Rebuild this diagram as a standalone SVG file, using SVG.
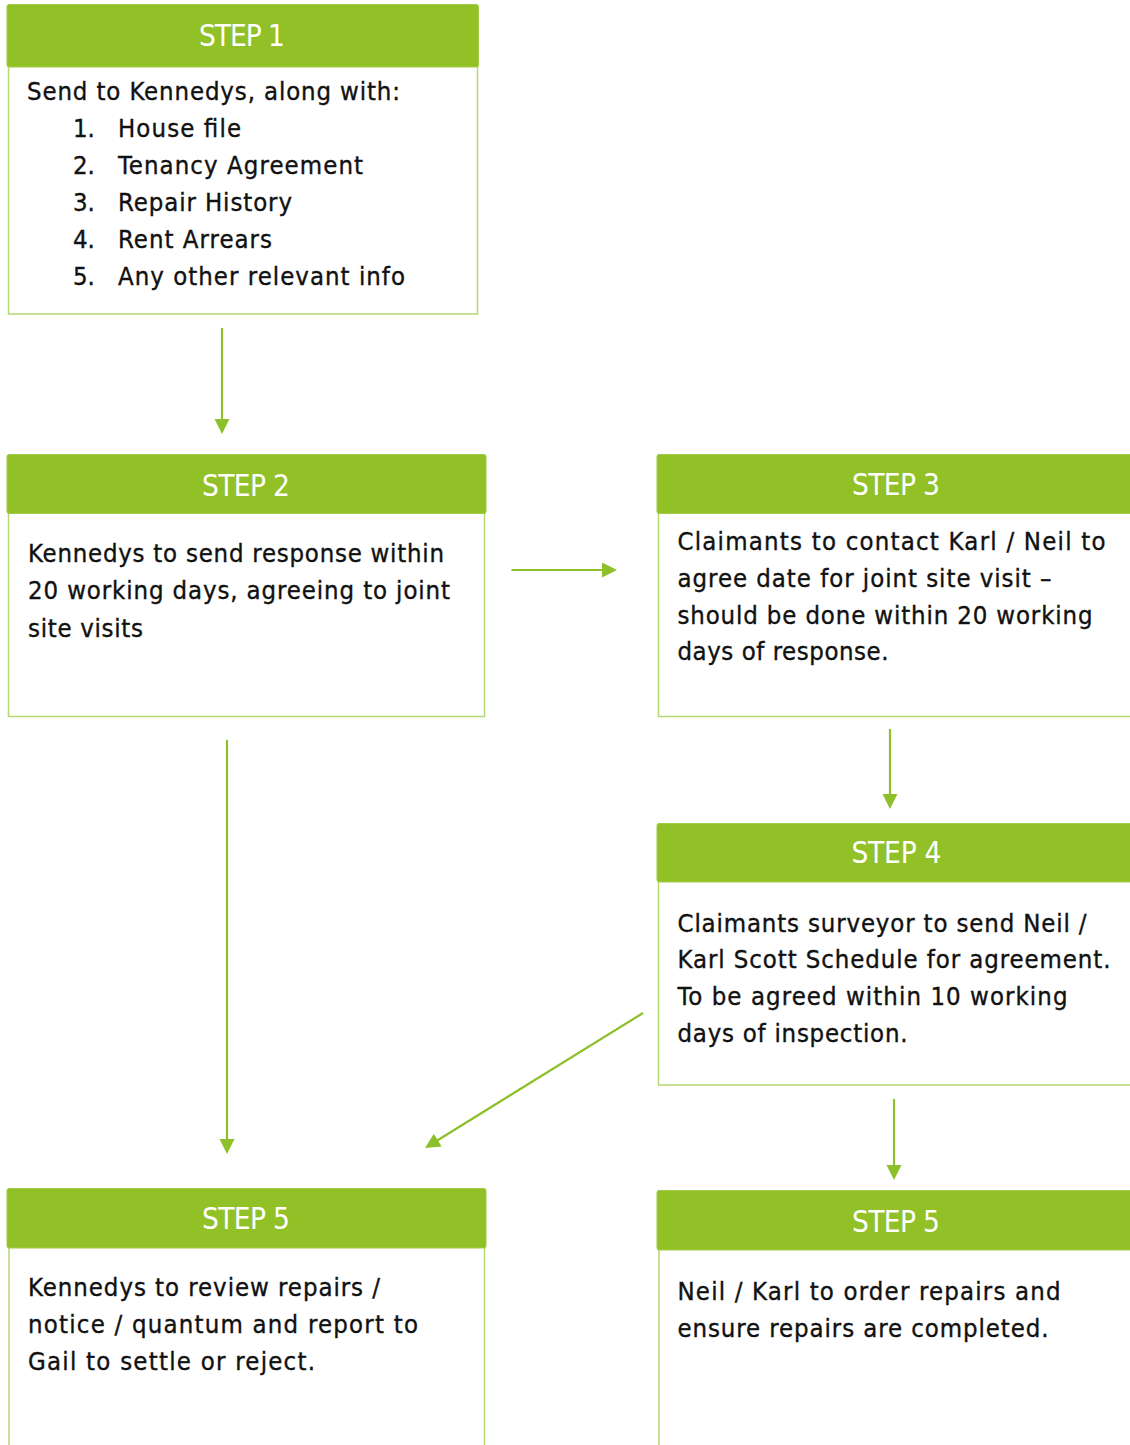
<svg xmlns="http://www.w3.org/2000/svg" width="1130" height="1445" viewBox="0 0 1130 1445">
<style>
.hdr{fill:#92c127;stroke:#a3cb45;stroke-width:1}
.body{fill:#ffffff;stroke:#b7d774;stroke-width:1.5}
.ht{font-family:"DejaVu Sans Condensed","DejaVu Sans","Noto Sans",sans-serif;font-size:29.5px;fill:#ffffff;text-anchor:middle}
.bt{font-family:"DejaVu Sans Condensed","DejaVu Sans","Noto Sans",sans-serif;font-size:25.5px;fill:#111111;stroke:#111111;stroke-width:0.35}
.conn{stroke:#8dc02a;stroke-width:2.2;fill:none;marker-end:url(#ah)}
</style>
<defs>
<marker id="ah" markerUnits="userSpaceOnUse" markerWidth="16" markerHeight="16" refX="4" refY="7.5" orient="auto">
<path d="M0,0 L15,7.5 L0,15 z" fill="#8dc02a"/>
</marker>
</defs>
<rect width="1130" height="1445" fill="#ffffff"/>

<g id="step1">
<rect class="body" x="8.5" y="66" width="469" height="248"/>
<rect class="hdr" x="7" y="4.5" width="471.5" height="62.5" rx="2"/>
<text class="ht" x="242" y="45.7" textLength="86">STEP 1</text>
<text class="bt" x="27" y="100" textLength="373">Send to Kennedys, along with:</text>
<text class="bt" x="73" y="137">1.</text>
<text class="bt" x="118" y="137" textLength="123">House file</text>
<text class="bt" x="73" y="174">2.</text>
<text class="bt" x="118" y="174" textLength="245">Tenancy Agreement</text>
<text class="bt" x="73" y="211">3.</text>
<text class="bt" x="118" y="211" textLength="174">Repair History</text>
<text class="bt" x="73" y="248">4.</text>
<text class="bt" x="118" y="248" textLength="154">Rent Arrears</text>
<text class="bt" x="73" y="285">5.</text>
<text class="bt" x="118" y="285" textLength="287">Any other relevant info</text>
</g>

<g id="step2">
<rect class="body" x="8.5" y="512" width="476" height="204.5"/>
<rect class="hdr" x="7" y="454.5" width="479" height="59" rx="2"/>
<text class="ht" x="246" y="495.7" textLength="88">STEP 2</text>
<text class="bt" x="28" y="562.3" textLength="416">Kennedys to send response within</text>
<text class="bt" x="28" y="599.3" textLength="422">20 working days, agreeing to joint</text>
<text class="bt" x="28" y="636.7" textLength="115">site visits</text>
</g>

<g id="step3">
<rect class="body" x="658.5" y="512" width="480" height="204.5"/>
<rect class="hdr" x="657" y="454.5" width="480" height="59" rx="2"/>
<text class="ht" x="896" y="495.3" textLength="88">STEP 3</text>
<text class="bt" x="677.5" y="550" textLength="428">Claimants to contact Karl / Neil to</text>
<text class="bt" x="677.5" y="586.7" textLength="374">agree date for joint site visit –</text>
<text class="bt" x="677.5" y="623.5" textLength="415">should be done within 20 working</text>
<text class="bt" x="677.5" y="660.3" textLength="211">days of response.</text>
</g>

<g id="step4">
<rect class="body" x="658.5" y="881" width="480" height="204"/>
<rect class="hdr" x="657" y="823.5" width="480" height="58.5" rx="2"/>
<text class="ht" x="896.5" y="863" textLength="90">STEP 4</text>
<text class="bt" x="677.5" y="931.7" textLength="409">Claimants surveyor to send Neil /</text>
<text class="bt" x="677.5" y="968.3" textLength="433">Karl Scott Schedule for agreement.</text>
<text class="bt" x="677.5" y="1005" textLength="390">To be agreed within 10 working</text>
<text class="bt" x="677.5" y="1041.7" textLength="230">days of inspection.</text>
</g>

<g id="step5a">
<rect class="body" x="9" y="1247" width="475.5" height="210"/>
<rect class="hdr" x="7" y="1188.5" width="479" height="59.5" rx="2"/>
<text class="ht" x="246" y="1229.3" textLength="88">STEP 5</text>
<text class="bt" x="28" y="1296" textLength="352">Kennedys to review repairs /</text>
<text class="bt" x="28" y="1333.3" textLength="390">notice / quantum and report to</text>
<text class="bt" x="28" y="1370" textLength="287">Gail to settle or reject.</text>
</g>

<g id="step5b">
<rect class="body" x="659" y="1249" width="480" height="210"/>
<rect class="hdr" x="657" y="1190.5" width="480" height="59.5" rx="2"/>
<text class="ht" x="896" y="1231.7" textLength="88">STEP 5</text>
<text class="bt" x="677.5" y="1300" textLength="383">Neil / Karl to order repairs and</text>
<text class="bt" x="677.5" y="1336.7" textLength="371">ensure repairs are completed.</text>
</g>

<g id="connectors">
<line class="conn" x1="222" y1="328" x2="222" y2="423"/>
<line class="conn" x1="511.5" y1="570" x2="606" y2="570"/>
<line class="conn" x1="890" y1="729" x2="890" y2="798"/>
<line class="conn" x1="227" y1="740" x2="227" y2="1143"/>
<line class="conn" x1="643" y1="1013" x2="434.4" y2="1142.2"/>
<line class="conn" x1="894" y1="1099" x2="894" y2="1169"/>
</g>
</svg>
